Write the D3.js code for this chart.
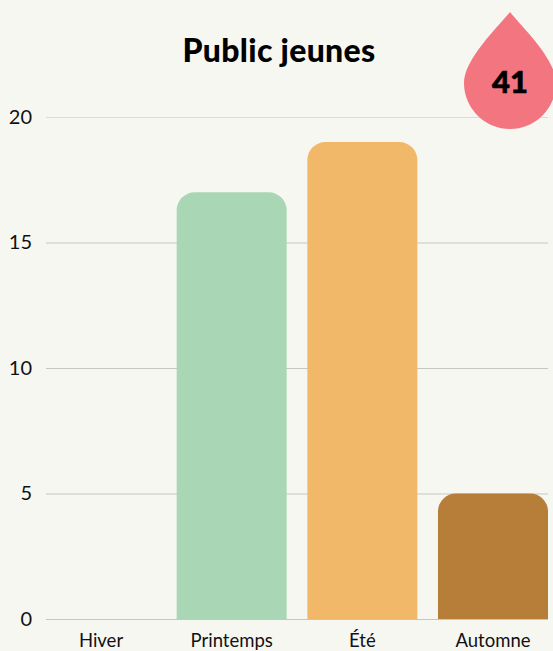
<!DOCTYPE html>
<html>
<head>
<meta charset="utf-8">
<script src="https://cdn.jsdelivr.net/npm/d3@7"></script>
<style>
html, body { margin: 0; padding: 0; background: #f7f7f2; overflow: hidden; }
svg { display: block; }
</style>
</head>
<body>
<svg></svg>
<script>
const seasons = ['Hiver', 'Printemps', 'Été', 'Automne']
const counts = [0, 17, 19, 5]
const barColors = ['#a9d7b5', '#a9d7b5', '#f2b869', '#b67e38']
const yTicks = [0, 5, 10, 15, 20]
const titleText = 'Public jeunes'
const total = 41

window.onload = () => {

	let width = 553, height = 651
	let plotLeft = 46, plotRight = 548, plotTop = 117, plotBottom = 619
	let radius = 18

	let scX = d3.scaleBand().domain(seasons).range([plotLeft, plotRight]).paddingInner(0.158)
	let scY = d3.scaleLinear().domain([0, 20]).range([plotBottom, plotTop])

	let svg = d3.select('svg').attr('width', width).attr('height', height)

	let yAxis = d3.axisLeft(scY).tickValues(yTicks).tickSize(-(plotRight - plotLeft)).tickPadding(14)

	let yG = svg.append('g')
	.attr('transform', `translate(${plotLeft}, 0)`)
	.call(yAxis)

	yG.select('.domain').remove()
	yG.selectAll('.tick line')
	.attr('stroke', d => d == 20 ? '#dcdcd6' : '#c6c7c0')
	.attr('stroke-width', 1)
	yG.selectAll('.tick text')
	.attr('font-family', 'Lato')
	.attr('font-weight', 400)
	.attr('font-size', 20)
	.attr('fill', '#111')

	let xAxis = d3.axisBottom(scX).tickSize(0).tickPadding(15)

	let xG = svg.append('g')
	.attr('transform', `translate(0, ${plotBottom})`)
	.call(xAxis)

	xG.select('.domain').remove()
	xG.selectAll('.tick text')
	.attr('font-family', 'Lato')
	.attr('font-weight', 400)
	.attr('font-size', 18.5)
	.attr('fill', '#111')

	// bars with only the top corners rounded
	const barPath = d => {
		let v = counts[seasons.indexOf(d)]
		let x0 = scX(d), x1 = x0 + scX.bandwidth(), y0 = scY(v), y1 = scY(0)
		let p = d3.path()
		p.moveTo(x0, y1)
		p.lineTo(x0, y0 + radius)
		p.arcTo(x0, y0, x0 + radius, y0, radius)
		p.lineTo(x1 - radius, y0)
		p.arcTo(x1, y0, x1, y0 + radius, radius)
		p.lineTo(x1, y1)
		p.closePath()
		return p.toString()
	}

	svg.append('g')
	.selectAll('path')
	.data(seasons.filter((d, i) => counts[i] > 0))
	.enter().append('path')
	.attr('d', barPath)
	.attr('fill', d => barColors[seasons.indexOf(d)])

	svg.append('text')
	.attr('x', 279)
	.attr('y', 62)
	.attr('text-anchor', 'middle')
	.attr('font-family', 'Lato')
	.attr('font-weight', 900)
	.attr('font-size', 32)
	.attr('letter-spacing', 0.3)
	.attr('fill', '#000')
	.text(titleText)

	// drop badge
	let drop = svg.append('g').attr('transform', 'translate(510, 83)')

	drop.append('path')
	.attr('d', 'M0,-71 C12,-56 46,-24 46,0 A46,46 0 0 1 -46,0 C-46,-24 -12,-56 0,-71 Z')
	.attr('fill', '#f37580')

	drop.append('text')
	.attr('x', 0)
	.attr('y', 10)
	.attr('text-anchor', 'middle')
	.attr('font-family', 'Lato')
	.attr('font-weight', 900)
	.attr('font-size', 31)
	.attr('stroke', '#000')
	.attr('stroke-width', 0.6)
	.attr('fill', '#000')
	.text(total)
}
</script>
</body>
</html>
